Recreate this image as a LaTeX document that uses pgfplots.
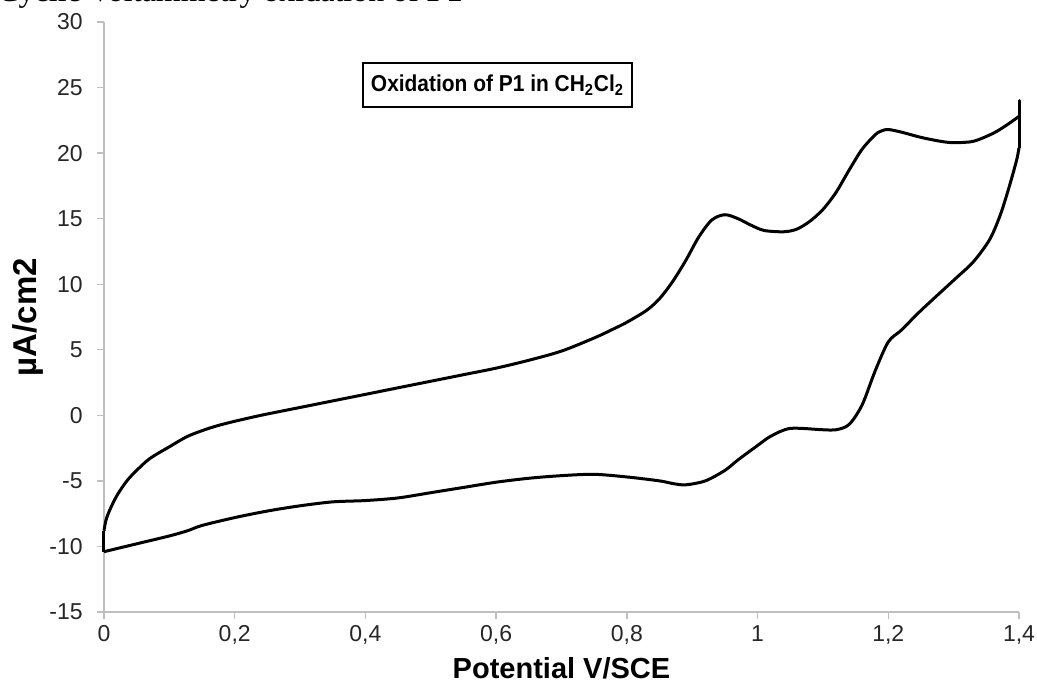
\documentclass[border=0pt]{standalone}
\usepackage{fontspec}
\setmainfont{Liberation Sans}
\newfontfamily\timesfont{Liberation Serif}
\usepackage{pgfplots}
\pgfplotsset{compat=1.18}
\usepackage{pgfplotstable}

% Forward (oxidation) scan, 0 -> 1.4 V
\pgfplotstableread{
E      j
0.000  -8.8
0.003  -8.0
0.009  -7.2
0.020  -6.1
0.035  -5.0
0.050  -4.2
0.070  -3.3
0.100  -2.4
0.128  -1.6
0.160  -1.0
0.188  -0.6
0.240   0.0
0.300   0.6
0.350   1.1
0.400   1.6
0.450   2.1
0.500   2.6
0.550   3.1
0.600   3.6
0.650   4.2
0.700   4.9
0.750   5.9
0.780   6.6
0.800   7.1
0.830   8.0
0.850   8.9
0.870  10.2
0.890  11.8
0.910  13.6
0.930  14.9
0.950  15.3
0.970  15.0
0.990  14.5
1.010  14.1
1.040  14.0
1.060  14.2
1.080  14.8
1.100  15.7
1.120  17.0
1.140  18.7
1.160  20.3
1.180  21.4
1.190  21.7
1.200  21.8
1.220  21.6
1.250  21.2
1.280  20.9
1.300  20.8
1.330  20.9
1.360  21.5
1.380  22.1
1.400  22.8
}\forwardscan

% Switching point at 1.4 V
\pgfplotstableread{
E      j
1.400  22.8
1.400  24.0
1.400  20.4
}\switchpoint

% Return scan, 1.4 -> 0 V
\pgfplotstableread{
E      j
1.400  20.4
1.397  19.6
1.390  18.3
1.380  16.6
1.370  15.1
1.355  13.4
1.330  11.7
1.300  10.3
1.250   8.0
1.220   6.5
1.200   5.6
1.180   3.4
1.160   0.8
1.140  -0.7
1.120  -1.1
1.100  -1.1
1.050  -1.0
1.020  -1.6
1.000  -2.3
0.970  -3.4
0.950  -4.2
0.920  -5.0
0.890  -5.3
0.870  -5.2
0.850  -5.0
0.800  -4.7
0.750  -4.5
0.700  -4.6
0.650  -4.8
0.600  -5.1
0.550  -5.5
0.500  -5.9
0.450  -6.3
0.400  -6.5
0.350  -6.6
0.300  -6.9
0.250  -7.3
0.200  -7.8
0.150  -8.4
0.128  -8.8
0.100  -9.2
0.050  -9.8
0.000 -10.4
}\returnscan

% Closing segment at 0 V
\pgfplotstableread{
E      j
0.000 -10.4
0.000  -8.8
}\startpoint

\begin{document}
\begin{tikzpicture}
\begin{axis}[
  at={(0,0)}, anchor=south west,
  scale only axis, width=457.5pt, height=295pt,
  xmin=0, xmax=1.4, ymin=-15, ymax=30,
  axis x line*=bottom, axis y line*=left,
  axis line style={-, draw=black!25, line width=0.7pt},
  tick align=outside, major tick length=3.5pt,
  tick style={draw=black!25, line width=0.7pt},
  xtick={0,0.2,0.4,0.6,0.8,1,1.2,1.4},
  xticklabels={0,{0,2},{0,4},{0,6},{0,8},1,{1,2},{1,4}},
  ytick={-15,-10,-5,0,5,10,15,20,25,30},
  yticklabels={-15,-10,-5,0,5,10,15,20,25,30},
  ticklabel style={font=\fontsize{11.5}{13}\selectfont, text=black!85},
  yticklabel style={anchor=east, inner sep=0pt, xshift=-7pt},
  xticklabel style={anchor=north, inner sep=0pt, yshift=-3pt},
  xlabel={Potential V/SCE},
  ylabel={µA/cm2},
  xlabel style={font=\bfseries\fontsize{14.5}{16}\selectfont,
    at={(axis description cs:0.5,-0.1119)}, anchor=base, inner sep=0pt},
  ylabel style={font=\bfseries\fontsize{16.5}{18}\selectfont,
    at={(axis description cs:-0.083,0.5)}, anchor=center, inner sep=0pt},
  clip=false,
]
\addplot[black, line width=1.5pt, line join=round, smooth, tension=0.5, mark=none]
  table[x=E, y=j] {\forwardscan};
\addplot[black, line width=1.5pt, line join=round, mark=none]
  table[x=E, y=j] {\switchpoint};
\addplot[black, line width=1.5pt, line join=round, smooth, tension=0.5, mark=none]
  table[x=E, y=j] {\returnscan};
\addplot[black, line width=1.5pt, line join=round, mark=none]
  table[x=E, y=j] {\startpoint};
\node[draw=black, line width=1pt, anchor=west, inner xsep=4pt, inner ysep=0pt,
  minimum height=22pt, font=\bfseries\fontsize{11.5}{13}\selectfont]
  at (axis cs:0.3947,25.17)
  {\scalebox{0.91}[1]{Oxidation of P1 in CH\textsubscript{2}Cl\textsubscript{2}}};
\end{axis}
\node[anchor=base west, inner sep=0pt, font=\timesfont\fontsize{16}{18}\selectfont]
  at (-53.5pt,305.25pt) {Cyclic Voltammetry oxidation of \textbf{P1}};
\pgfresetboundingbox
\useasboundingbox (-52pt,-38.5pt) rectangle (466.5pt,306pt);
\end{tikzpicture}
\end{document}
